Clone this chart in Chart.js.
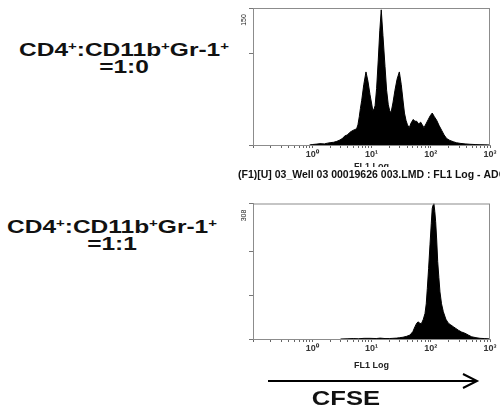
<!DOCTYPE html>
<html>
<head>
<meta charset="utf-8">
<script src="https://cdn.jsdelivr.net/npm/chart.js@4.4.0/dist/chart.umd.min.js"></script>
<style>
    html, body { margin: 0; padding: 0; background: #fff; }
    body { width: 500px; height: 405px; position: relative; overflow: hidden;
           font-family: "Liberation Sans", Arial, sans-serif; }
    canvas { position: absolute; left: 0; }
    #topChart { top: 0; }
    #bottomChart { top: 190px; }
    .ratio { position: absolute; width: 240px; text-align: center; font-weight: bold;
             font-size: 18px; line-height: 17px; color: #111;
             transform: scaleX(1.36); transform-origin: center top; }
    .ratio sup { font-size: 11px; line-height: 0; vertical-align: 6px; }
    #cfse { position: absolute; left: 246px; top: 387px; width: 200px; text-align: center;
            font-weight: bold; font-size: 20px; line-height: 22px; color: #111;
            transform: scaleX(1.28); transform-origin: center top; }
    #arrow { position: absolute; left: 0; top: 360px; }
</style>
</head>
<body>

<div class="ratio" style="left:4px; top:42px;">CD4<sup>+</sup>:CD11b<sup>+</sup>Gr-1<sup>+</sup><br>=1:0</div>
<div class="ratio" style="left:-8px; top:219px;">CD4<sup>+</sup>:CD11b<sup>+</sup>Gr-1<sup>+</sup><br>=1:1</div>

<canvas id="topChart" width="500" height="185"></canvas>
<canvas id="bottomChart" width="500" height="180"></canvas>

<svg id="arrow" width="500" height="30">
    <line x1="268" y1="21" x2="477" y2="21" stroke="#000" stroke-width="2"/>
    <polyline points="463,14 477,21 463,28" fill="none" stroke="#000" stroke-width="2"/>
</svg>
<div id="cfse">CFSE</div>

<script>
/* ---- data ---- */
const decadeValues = [1, 10, 100, 1000];
const decadeLabels = ['10⁰', '10¹', '10²', '10³'];
const axisTitle = 'FL1 Log';
const topFileLabel = '(F1)[U] 03_Well 03 00019626 003.LMD : FL1 Log - ADC';

// CD4+ : CD11b+Gr-1+ = 1:0  (several division peaks)
const topFL1 = [0.9, 1.0, 1.2, 1.35, 1.6, 1.8, 2.0, 2.3, 2.6, 2.94,
    3.2, 3.57, 3.9, 4.34, 4.87, 5.3, 5.62, 5.9, 6.22, 6.5,
    6.84, 7.4, 8.07, 8.7, 9.44, 10.0, 10.5, 11.0, 11.5, 12.2,
    13.0, 13.8, 14.6, 15.6, 16.9, 18.0, 19.2, 20.2, 21.3, 23.0,
    24.9, 27.0, 29.5, 31.8, 34.4, 36.0, 38.2, 40.5, 43.4, 46.5,
    50.7, 54.0, 57.9, 62.5, 67.6, 72.0, 76.9, 83.0, 90.9, 98.0,
    106, 115, 126, 139, 153, 168, 186, 210, 240, 270,
    312, 380, 459, 560, 678, 820, 1000];
const topCounts = [0, 0.5, 1, 1.5, 1.2, 2, 2.5, 3, 4, 5.5,
    7, 10, 11, 14, 16, 17, 18, 22, 31, 40,
    49, 66, 80, 70, 55, 46, 38, 39, 43, 62,
    93, 125, 148, 120, 86, 60, 44, 38, 35, 46,
    60, 72, 80, 66, 46, 35, 27, 22, 19, 24,
    28, 26, 26, 23, 25, 22, 19, 23, 28, 32,
    35, 31, 27, 21, 16, 11, 7, 5, 3.6, 2.5,
    1.8, 1.2, 0.8, 0.5, 0.3, 0.2, 0];
const topMax = 150;
const topYTicks = [0, 100, 150];

// CD4+ : CD11b+Gr-1+ = 1:1  (single undivided peak)
const bottomFL1 = [3.0, 4.0, 4.93, 6.0, 7.5, 9.44, 12.0, 14.0, 16.9, 20.0,
    23.0, 26.6, 30.0, 34.0, 39.0, 44.7, 50.0, 54.2, 58.0, 61.7,
    66.0, 70.3, 75.0, 80.0, 84.0, 87.5, 92.0, 97.1, 102, 106,
    110, 113, 117, 121, 126, 131, 137, 143, 152, 163,
    180, 198, 218, 240, 265, 292, 330, 378, 430, 491,
    580, 678, 800, 925, 1000];
const bottomCounts = [0, 0.5, 1, 0.5, 1.5, 1.5, 1, 2, 1, 1,
    1.5, 2, 3, 4, 6, 9, 17, 28, 36, 39,
    35, 36, 45, 58, 80, 115, 160, 214, 262, 297,
    305, 308, 290, 267, 225, 176, 140, 107, 80, 62,
    45, 36, 32, 28, 24, 20, 16, 13, 9, 5,
    3, 1.5, 1, 0.5, 0];
const bottomMax = 308;
const bottomYTicks = [0, 100, 200, 308];

/* ---- frame, rotated y max label and text under the x axis ---- */
const framePlugin = {
    id: 'framePlugin',
    afterDraw(chart, args, opts) {
        const { ctx, chartArea: a } = chart;
        ctx.save();
        ctx.strokeStyle = '#8c8c8c';
        ctx.lineWidth = 1;
        ctx.strokeRect(a.left + 0.5, a.top + 0.5, a.right - a.left - 1, a.bottom - a.top);

        ctx.fillStyle = '#222';
        ctx.font = '7px "Liberation Sans", Arial';
        ctx.textAlign = 'center';
        ctx.textBaseline = 'middle';
        ctx.save();
        ctx.translate(a.left - 9, a.top + 12);
        ctx.rotate(-Math.PI / 2);
        ctx.fillText(opts.yLabel, 0, 0);
        ctx.restore();

        const mid = (a.left + a.right) / 2;
        ctx.font = 'bold 9px "Liberation Sans", Arial';
        ctx.fillText(axisTitle, mid, a.bottom + opts.titleOffset);

        if (opts.fileLabel) {
            // file name line sits over the (mostly hidden) axis title
            ctx.fillStyle = '#fff';
            ctx.fillRect(0, a.bottom + 22, chart.width, 18);
            ctx.fillStyle = '#111';
            ctx.font = 'bold 10.5px "Liberation Sans", Arial';
            ctx.textAlign = 'left';
            ctx.fillText(opts.fileLabel, a.left - 15, a.bottom + 30);
        }
        ctx.restore();
    }
};

function makeHistogram(canvasId, xs, ys, yMax, yTicks, padTop, xHeight, extra) {
    const points = xs.map((x, i) => ({ x: x, y: ys[i] }));
    return new Chart(document.getElementById(canvasId), {
        type: 'line',
        data: {
            datasets: [{
                data: points,
                borderColor: '#000',
                backgroundColor: '#000',
                borderWidth: 1,
                pointRadius: 0,
                fill: 'origin',
                tension: 0
            }]
        },
        options: {
            responsive: false,
            animation: false,
            events: [],
            layout: { padding: { left: 241, right: 10, top: padTop, bottom: 0 } },
            plugins: {
                legend: { display: false },
                tooltip: { enabled: false },
                framePlugin: extra
            },
            scales: {
                x: {
                    type: 'logarithmic',
                    min: 0.1,
                    max: 1000,
                    afterBuildTicks: (scale) => {
                        const ticks = [];
                        [0.1, 1, 10, 100].forEach(d => {
                            for (let m = 1; m < 10; m++) ticks.push({ value: d * m });
                        });
                        ticks.push({ value: 1000 });
                        scale.ticks = ticks;
                    },
                    afterFit: (scale) => { scale.height = xHeight; },
                    ticks: {
                        autoSkip: false,
                        maxRotation: 0,
                        padding: 1,
                        color: '#333',
                        font: { family: 'Liberation Sans', size: 9, weight: 'bold' },
                        callback: (v) => {
                            const i = decadeValues.findIndex(d => Math.abs(d - v) < 1e-6 * d);
                            return i >= 0 ? decadeLabels[i] : '';
                        }
                    },
                    grid: { drawOnChartArea: false, tickLength: 3, color: '#666' },
                    border: { display: true, color: '#8c8c8c' }
                },
                y: {
                    min: 0,
                    max: yMax,
                    afterBuildTicks: (scale) => { scale.ticks = yTicks.map(v => ({ value: v })); },
                    afterFit: (scale) => { scale.width = 12; },
                    ticks: { display: false },
                    grid: { drawOnChartArea: false, tickLength: 4, color: '#777' },
                    border: { display: true, color: '#8c8c8c' }
                }
            }
        },
        plugins: [framePlugin]
    });
}

makeHistogram('topChart', topFL1, topCounts, topMax, topYTicks, 8, 40,
    { yLabel: String(topMax), titleOffset: 22, fileLabel: topFileLabel });
makeHistogram('bottomChart', bottomFL1, bottomCounts, bottomMax, bottomYTicks, 13.5, 31,
    { yLabel: String(bottomMax), titleOffset: 27, fileLabel: null });
</script>
</body>
</html>
